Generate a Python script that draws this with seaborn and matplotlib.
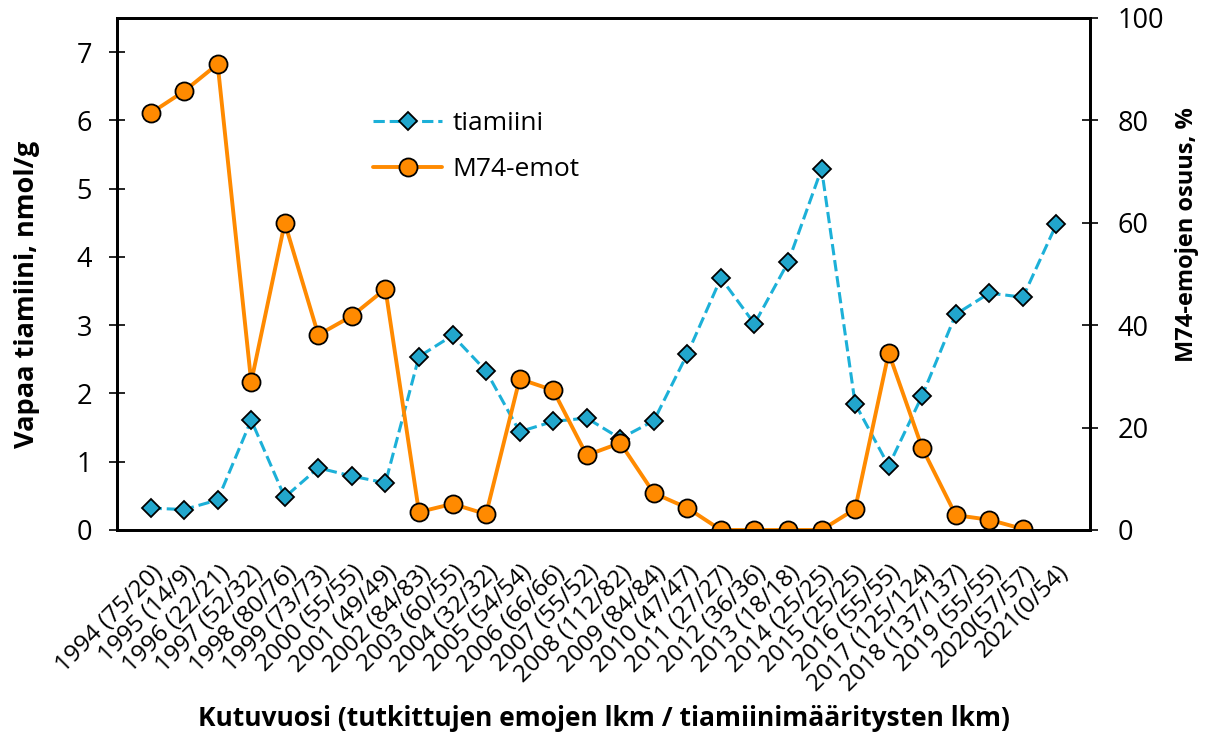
import numpy as np
import pandas as pd
import matplotlib
matplotlib.use("Agg")
import matplotlib.pyplot as plt
import seaborn as sns

labels = ["1994 (75/20)", "1995 (14/9)", "1996 (22/21)", "1997 (52/32)", "1998 (80/76)",
          "1999 (73/73)", "2000 (55/55)", "2001 (49/49)", "2002 (84/83)", "2003 (60/55)",
          "2004 (32/32)", "2005 (54/54)", "2006 (66/66)", "2007 (55/52)", "2008 (112/82)",
          "2009 (84/84)", "2010 (47/47)", "2011 (27/27)", "2012 (36/36)", "2013 (18/18)",
          "2014 (25/25)", "2015 (25/25)", "2016 (55/55)", "2017 (125/124)", "2018 (137/137)",
          "2019 (55/55)", "2020(57/57)", "2021(0/54)"]
tiamiini = [0.32, 0.30, 0.44, 1.61, 0.48, 0.91, 0.79, 0.69, 2.54, 2.85, 2.33, 1.44, 1.59, 1.64,
            1.34, 1.60, 2.58, 3.69, 3.02, 3.92, 5.29, 1.85, 0.94, 1.97, 3.16, 3.47, 3.41, 4.48]
m74 = [81.4, 85.7, 91.0, 28.9, 60.0, 38.1, 41.8, 47.1, 3.5, 5.1, 3.1, 29.5, 27.3, 14.6,
       17.0, 7.2, 4.3, 0.0, 0.0, 0.0, 0.0, 4.1, 34.6, 16.0, 2.9, 2.0, 0.2, np.nan]

sns.set_style("white")
plt.rcParams['font.family'] = ['Open Sans', 'DejaVu Sans']
plt.rcParams['text.color'] = 'black'
plt.rcParams['axes.labelcolor'] = 'black'
plt.rcParams['xtick.color'] = 'black'
plt.rcParams['ytick.color'] = 'black'

df = pd.DataFrame({"x": np.arange(len(labels)), "tiamiini": tiamiini, "m74": m74})

fig = plt.figure(figsize=(12.09, 7.42), dpi=100)
ax = fig.add_axes([117/1209, 1-530/742, (1090-117)/1209, (530-18)/742])
ax2 = ax.twinx()

blue = "#1cb0d8"
orange = "#ff8a00"
sns.lineplot(data=df, x="x", y="tiamiini", ax=ax, color=blue, linestyle="--", lw=2.2,
             marker="D", markersize=9, markerfacecolor="#22a6cc", markeredgecolor="black",
             markeredgewidth=1.3, label="tiamiini", legend=False)
sns.lineplot(data=df.dropna(), x="x", y="m74", ax=ax2, color=orange, lw=2.8,
             marker="o", markersize=13, markerfacecolor=orange, markeredgecolor="black",
             markeredgewidth=1.3, label="M74-emot", legend=False)

ax.set_xlim(-1, 28)
ax.set_ylim(0, 7.5)
ax2.set_ylim(0, 100)
ax.set_xticks(np.arange(len(labels)))
ax.set_xticklabels(labels, rotation=45, ha="right", rotation_mode="anchor", fontsize=17.5)
ax.set_yticks(range(0, 8))
ax2.set_yticks(range(0, 101, 20))
ax.tick_params(axis="y", direction="inout", length=12, width=1.2, labelsize=19.5, pad=12)
ax2.tick_params(axis="y", direction="inout", length=12, width=1.2, labelsize=19.5, pad=14)
ax.tick_params(axis="x", direction="out", length=10, width=1, color="#888888", labelsize=17.5, pad=12)
for a in (ax, ax2):
    for s in a.spines.values():
        s.set_linewidth(2)
        s.set_color("black")

ax.set_xlabel("Kutuvuosi (tutkittujen emojen lkm / tiamiinimääritysten lkm)", fontsize=19,
              fontweight="bold", va="center")
ax.xaxis.set_label_coords(0.5, (530 - 719) / 512)
ax.set_ylabel("Vapaa tiamiini, nmol/g", fontsize=19.5, fontweight="bold", va="center")
ax.yaxis.set_label_coords((27 - 117) / 973, (530 - 294) / 512)
ax2.set_ylabel("M74-emojen osuus, %", fontsize=17, fontweight="bold", va="center")
ax2.yaxis.set_label_coords((1187 - 117) / 973, (530 - 235) / 512)

h1, l1 = ax.get_legend_handles_labels()
h2, l2 = ax2.get_legend_handles_labels()
ax2.legend(h1 + h2, l1 + l2, loc="upper left", bbox_to_anchor=(0.239, 0.865), frameon=False,
           fontsize=19, handlelength=2.6, handletextpad=0.4, labelspacing=0.8)

fig.savefig("out.png", dpi=100)
